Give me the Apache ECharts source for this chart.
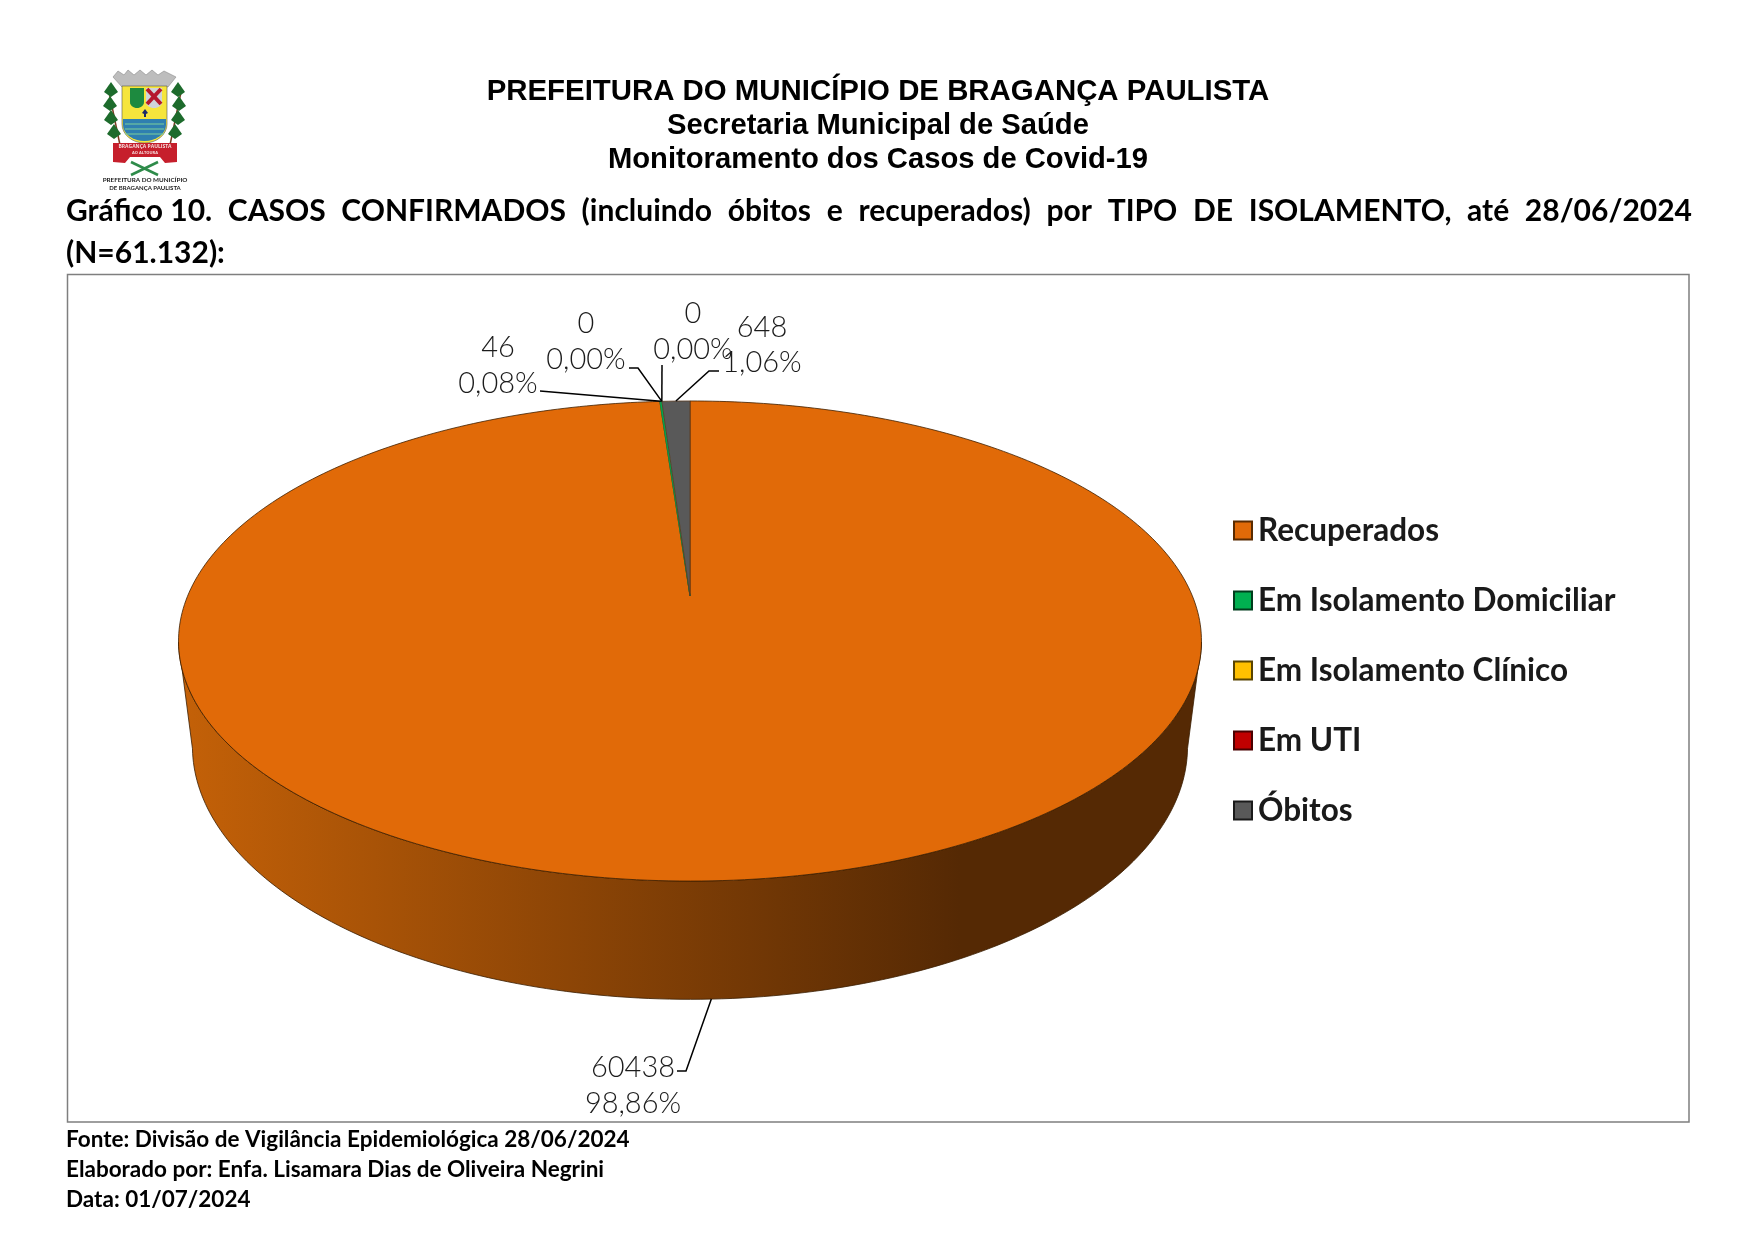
<!DOCTYPE html>
<html><head><meta charset="utf-8">
<style>html,body{margin:0;padding:0;background:#fff}#c{width:1755px;height:1241px}</style>
<script src="https://cdn.jsdelivr.net/npm/echarts@6/dist/echarts.min.js"></script>
</head><body><div id="c"></div>
<script>
const categories = ['Recuperados','Em Isolamento Domiciliar','Em Isolamento Clínico','Em UTI','Óbitos'];
const values = [60438,46,0,0,648];
const colors = ['#E16A08','#00B050','#FFC000','#C00000','#595959'];
const borders = ['#5a2b00','#003d1c','#5a4400','#4a0000','#1a1a1a'];
const headerLines = ['PREFEITURA DO MUNICÍPIO DE BRAGANÇA PAULISTA','Secretaria Municipal de Saúde','Monitoramento dos Casos de Covid-19'];
const headingWords = ['Gráfico 10.','CASOS','CONFIRMADOS','(incluindo','óbitos','e','recuperados)','por','TIPO','DE','ISOLAMENTO,','até','28/06/2024'];
const headingLine2 = '(N=61.132):';
const footerLines = ['Fonte: Divisão de Vigilância Epidemiológica 28/06/2024','Elaborado por: Enfa. Lisamara Dias de Oliveira Negrini','Data: 01/07/2024'];

const total = values.reduce((a,b)=>a+b,0);
const starts = values.map((v,i)=>values.slice(0,i).reduce((a,b)=>a+b,0));

// perspective of the pie disc
const P = {ax:690, ay:596, B:502.4, C:231.6, D:107, p:0.1875, q:0.027};
const project = (u,v,z)=>{const w=1-P.p*v+P.q*z;return [P.ax+P.B*u/w, P.ay+(P.C*v+P.D*z)/w];};
const labelFont = '300 29px "Lato","Noto Sans",sans-serif';
const labelLayout = [
 {x:633,y1:1068,y2:1104,line:[[677,1071],[686,1071]]},
 {x:498,y1:348,y2:384,line:[[540,391]]},
 {x:586,y1:324,y2:360,line:[[629,368],[638,368]]},
 {x:693,y1:314,y2:350,line:[[662,365]]},
 {x:762,y1:328,y2:363,line:[[719,371],[709,371]]}
];

function renderSlice(params, api){
  const i = params.seriesIndex;
  const s = api.value(1), e = api.value(2);
  const c = api.coord([0,0]);
  const toUV = val=>{const q=api.coord([1,val]);return [(q[0]-c[0])/100,(q[1]-c[1])/100];};
  const children = [];
  const n = Math.max(2,Math.round((e-s)/total*360));
  if (e>s){
    const top=[[P.ax,P.ay]], wallTop=[], wallBot=[];
    for(let k=0;k<=n;k++){
      const [u,v]=toUV(s+(e-s)*k/n);
      top.push(project(u,v,0));
      if(v>=P.p){wallTop.push(project(u,v,0));wallBot.push(project(u,v,1));}
    }
    if(wallTop.length>1){
      children.push({type:'polygon',shape:{points:wallTop.concat(wallBot.reverse())},style:{
        fill:{type:'linear',x:179,y:0,x2:960,y2:0,global:true,colorStops:[{offset:0,color:'#C46108'},{offset:1,color:'#552904'}]},
        stroke:'#3a1d00',lineWidth:0.8}});
    }
    children.push({type:'polygon',shape:{points:top},style:{fill:colors[i],stroke:i===4?'#5a3a20':(i===1?'#0a8a42':'#3f2000'),lineWidth:0.8}});
  }
  // leader & label
  const mid=(s+e)/2, [mu,mv]=toUV(mid);
  const L=labelLayout[i];
  const anchor=project(mu,mv,mv>P.p?1:0);
  children.push({type:'polyline',shape:{points:L.line.concat([anchor])},style:{fill:null,stroke:'#000',lineWidth:1.5},z2:30});
  const pct=(e-s)/total*100;
  const pctText=pct.toFixed(2).replace('.',',')+'%';
  children.push({type:'text',z2:40,style:{text:String(e-s),x:L.x,y:L.y1,align:'center',verticalAlign:'middle',font:labelFont,fill:'#1c1c1c'}});
  children.push({type:'text',z2:40,style:{text:pctText,x:L.x,y:L.y2,align:'center',verticalAlign:'middle',font:labelFont,fill:'#1c1c1c'}});
  return {type:'group',children};
}

const chart = echarts.init(document.getElementById('c'),null,{width:1755,height:1241});

// heading justified word by word
const headFont='bold 30px "Lato","Noto Sans",sans-serif';
const footFont='bold 22.5px "Lato","Noto Sans",sans-serif';
const ctx=document.createElement('canvas').getContext('2d');ctx.font=headFont;
const X0=66,X1=1692;
const ws=headingWords.map(w=>ctx.measureText(w).width);
const gap=(X1-X0-ws.reduce((a,b)=>a+b,0))/(headingWords.length-1);
let hx=X0;
const headG=headingWords.map((w,i)=>{const t={type:'text',x:hx,y:211.5,style:{text:w,font:headFont,fill:'#000',align:'left',verticalAlign:'middle'}};hx+=ws[i]+gap;return t;});
headG.push({type:'text',x:X0,y:253,style:{text:headingLine2,font:headFont,fill:'#000',align:'left',verticalAlign:'middle'}});
const footG=footerLines.map((t,i)=>({type:'text',x:66,y:[1140,1169.5,1199.5][i],style:{text:t,font:footFont,fill:'#000',align:'left',verticalAlign:'middle'}}));

// coat of arms
const g='#1d6b2c';
function shield(x1,x2,y1,y2,y3){
  const pts=[[x1,y1],[x2,y1],[x2,y2]];
  const cx=(x1+x2)/2,rx=(x2-x1)/2,ry=y3-y2;
  for(let a=1;a<16;a++){const t=a/16*Math.PI;pts.push([cx+rx*Math.cos(t),y2+ry*Math.sin(t)]);}
  pts.push([x1,y2]);return pts;
}
const logo=[
 {type:'line',shape:{x1:109,y1:92,x2:120,y2:145},style:{stroke:'#7a3a20',lineWidth:1.5}},
 {type:'line',shape:{x1:181,y1:92,x2:170,y2:145},style:{stroke:'#7a3a20',lineWidth:1.5}},
 ...[[111,90],[110,104],[111,118],[114,132]].flatMap(([x,y])=>[
   {type:'polygon',shape:{points:[[x,y-8],[x+7,y+2],[x,y+7],[x-7,y+2]]},style:{fill:g}}]),
 ...[[178,90],[179,104],[178,118],[175,132]].flatMap(([x,y])=>[
   {type:'polygon',shape:{points:[[x,y-8],[x+7,y+2],[x,y+7],[x-7,y+2]]},style:{fill:g}}]),
 {type:'polygon',shape:{points:[[113,77],[118,71],[124,75],[128,70],[134,75],[140,70],[146,75],[152,70],[158,75],[164,71],[176,77],[168,87],[122,87]]},style:{fill:'#bdbdbd',stroke:'#8a8a8a',lineWidth:0.6}},
 {type:'polygon',shape:{points:shield(122,167,86,124,143)},style:{fill:'#F6E53C',stroke:'#555',lineWidth:0.6}},
 {type:'polygon',shape:{points:shield(130,144,88,102,108)},style:{fill:'#1d8a3f'}},
 {type:'polygon',shape:{points:shield(146,162,88,102,108)},style:{fill:'#cfd4da'}},
 {type:'line',shape:{x1:147,y1:89,x2:161,y2:104},style:{stroke:'#b5182d',lineWidth:4}},
 {type:'line',shape:{x1:161,y1:89,x2:147,y2:104},style:{stroke:'#b5182d',lineWidth:4}},
 {type:'polygon',shape:{points:[[145,109],[148,113],[146,114],[146,117],[144,117],[144,114],[142,113]]},style:{fill:'#1c2a66'}},
 {type:'polygon',shape:{points:shield(123,166,119,125,141)},style:{fill:'#2f7fb0'}},
 ...[124,129,134].map(y=>({type:'line',shape:{x1:125,y1:y,x2:164,y2:y},style:{stroke:'#7fcf9a',lineWidth:1.2}})),
 {type:'polygon',shape:{points:[[113,143],[177,143],[177,162],[165,163],[160,157],[130,157],[125,163],[113,162]]},style:{fill:'#c61f2c'}},
 {type:'text',x:145,y:147,style:{text:'BRAGANÇA PAULISTA',font:'bold 5px "Open Sans",sans-serif',fill:'#f4dada',align:'center',verticalAlign:'middle'}},
 {type:'text',x:145,y:153,style:{text:'AO ALTOURA',font:'bold 4px "Open Sans",sans-serif',fill:'#f4dada',align:'center',verticalAlign:'middle'}},
 {type:'line',shape:{x1:131,y1:175,x2:158,y2:162},style:{stroke:'#2e8b4a',lineWidth:2.5}},
 {type:'line',shape:{x1:158,y1:175,x2:131,y2:162},style:{stroke:'#2e8b4a',lineWidth:2.5}},
 {type:'text',x:145,y:180,style:{text:'PREFEITURA DO MUNICÍPIO',font:'bold 6.3px "Lato",sans-serif',fill:'#222',align:'center',verticalAlign:'middle'}},
 {type:'text',x:145,y:188,style:{text:'DE BRAGANÇA PAULISTA',font:'bold 6px "Lato",sans-serif',fill:'#222',align:'center',verticalAlign:'middle'}}
];

chart.setOption({
  animation:false,
  backgroundColor:'#fff',
  title:[
    {text:headerLines[0],left:873,top:86.6,textAlign:'center',textVerticalAlign:'middle',textStyle:{fontFamily:'Liberation Sans',fontWeight:'bold',fontSize:29.4,color:'#000'}},
    {text:headerLines[1],left:873,top:120.5,textAlign:'center',textVerticalAlign:'middle',textStyle:{fontFamily:'Liberation Sans',fontWeight:'bold',fontSize:29.2,color:'#000'}},
    {text:headerLines[2],left:873,top:154.5,textAlign:'center',textVerticalAlign:'middle',textStyle:{fontFamily:'Liberation Sans',fontWeight:'bold',fontSize:29.2,color:'#000'}}
  ],
  polar:{center:[300,300],radius:100},
  radiusAxis:{show:false,min:0,max:1},
  angleAxis:{show:false,min:0,max:total,startAngle:90},
  legend:{orient:'vertical',left:1233,top:514.5,itemWidth:18,itemHeight:18,itemGap:38,icon:'rect',padding:0,
    data:categories,selectedMode:false,
    textStyle:{fontFamily:'Lato',fontWeight:'bold',fontSize:31.5,color:'#1a1a1a',padding:[0,0,0,1]}},
  graphic:{elements:[
    {type:'rect',shape:{x:67.5,y:274.5,width:1621.5,height:847.5},style:{fill:null,stroke:'#7f7f7f',lineWidth:1.5},z:-10},
    ...logo,...headG,...footG]},
  series:categories.map((name,i)=>({
    type:'custom',name,coordinateSystem:'polar',silent:true,clip:false,
    itemStyle:{color:colors[i],borderColor:borders[i],borderWidth:1.5},
    renderItem:renderSlice,
    data:[[1,starts[i],starts[i]+values[i]]],
    encode:{radius:0,angle:1}
  }))
});
</script></body></html>
